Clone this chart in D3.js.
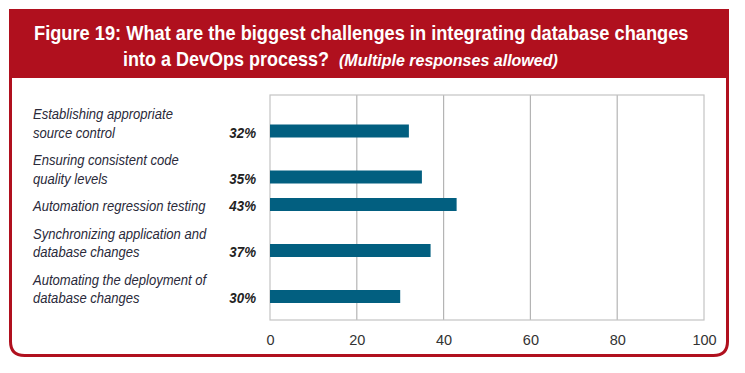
<!DOCTYPE html>
<html lang="en">
<head>
  <meta charset="UTF-8">
  <title>Figure 19</title>
  <style>
    * { box-sizing: border-box; margin: 0; padding: 0; }
    body { background: #fff; width: 745px; height: 373px; overflow: hidden; }
    svg { display: block; }
    .title { font-family: 'Liberation Sans', Arial, sans-serif; font-weight: bold; fill: #fff; }
    .cat { font-family: 'Liberation Sans', Arial, sans-serif; font-style: italic; fill: #2a2a3a; font-size: 14.5px; }
    .pct { font-family: 'Liberation Sans', Arial, sans-serif; font-style: italic; font-weight: bold; fill: #222; font-size: 14.5px; }
    .x-axis text { font-family: 'Liberation Sans', Arial, sans-serif; fill: #333; font-size: 14.5px; }
  </style>
</head>
<body>
  <svg></svg>
  <script src="https://d3js.org/d3.v7.min.js"></script>
  <script>
    // data
    const categories = [
      ['Establishing appropriate', 'source control'],
      ['Ensuring consistent code', 'quality levels'],
      ['Automation regression testing'],
      ['Synchronizing application and', 'database changes'],
      ['Automating the deployment of', 'database changes']
    ];
    const values = [32, 35, 43, 37, 30];
    const ticks = [0, 20, 40, 60, 80, 100];

    const width = 745;
    const height = 373;
    const red = '#b0101e';
    const barColor = '#025f80';

    const svg = d3.select('svg')
      .attr('width', width)
      .attr('height', height);

    // squeeze a text horizontally so it spans a given width (condensed look)
    function fitText(parent, x, y, str, w, cls, size, italic) {
      const t = parent.append('text')
        .attr('class', cls)
        .attr('font-size', size)
        .attr('font-style', italic ? 'italic' : null)
        .text(str);
      const k = w / t.node().getComputedTextLength();
      t.attr('transform', `translate(${x},${y}) scale(${k},1)`);
      return t;
    }

    // outer frame: square top, rounded bottom
    const fx0 = 10.5, fx1 = 727.5, fy0 = 9, fy1 = 355.5, r = 14;
    svg.append('path')
      .attr('d', `M${fx0},${fy0} L${fx0},${fy1 - r} Q${fx0},${fy1} ${fx0 + r},${fy1}
                  L${fx1 - r},${fy1} Q${fx1},${fy1} ${fx1},${fy1 - r} L${fx1},${fy0}`)
      .attr('fill', 'none')
      .attr('stroke', red)
      .attr('stroke-width', 3);

    // title band
    svg.append('rect')
      .attr('x', 9).attr('y', 9)
      .attr('width', 720).attr('height', 69)
      .attr('fill', red);

    fitText(svg, 34, 40, 'Figure 19: What are the biggest challenges in integrating database changes', 655, 'title', 21);
    fitText(svg, 123, 66, 'into a DevOps process?', 206, 'title', 21);
    fitText(svg, 339, 66, '(Multiple responses allowed)', 219, 'title', 16.5, true);

    // plot area
    const plotTop = 95, plotBottom = 320;
    const xScale = d3.scaleLinear().domain([0, 100]).range([270, 704]);

    // line layout for labels: rows of text, extra gap between groups
    const lineStep = 18.5, groupGap = 27.5, firstLine = 114;
    const lineY = [];
    let yCur = firstLine;
    categories.forEach((lines, i) => {
      const ys = lines.map((l, j) => yCur + j * lineStep);
      lineY.push(ys);
      yCur = ys[ys.length - 1] + groupGap;
    });

    const main = svg.append('g');

    // gridlines
    main.append('g')
      .selectAll('line')
      .data(ticks.slice(1, -1))
      .join('line')
      .attr('x1', d => xScale(d)).attr('x2', d => xScale(d))
      .attr('y1', plotTop).attr('y2', plotBottom)
      .attr('stroke', '#b4b4b4')
      .attr('stroke-width', 1.2);

    main.append('rect')
      .attr('x', xScale(0)).attr('y', plotTop)
      .attr('width', xScale(100) - xScale(0))
      .attr('height', plotBottom - plotTop)
      .attr('fill', 'none')
      .attr('stroke', '#c4c4c4')
      .attr('stroke-width', 1.2);

    // bars aligned with the last text line of each category
    const barH = 13;
    main.append('g')
      .selectAll('rect')
      .data(values)
      .join('rect')
      .attr('x', xScale(0))
      .attr('y', (d, i) => lineY[i][lineY[i].length - 1] - barH / 2 - 1.5)
      .attr('width', d => xScale(d) - xScale(0))
      .attr('height', barH)
      .attr('fill', barColor);

    // category labels, condensed
    const catG = main.append('g')
      .attr('transform', 'translate(33,0) scale(0.9,1)');
    categories.forEach((lines, i) => {
      lines.forEach((l, j) => {
        catG.append('text')
          .attr('class', 'cat')
          .attr('x', 0)
          .attr('y', lineY[i][j])
          .attr('dy', '0.35em')
          .text(l);
      });
    });

    // percent labels
    main.append('g')
      .attr('transform', 'translate(256,0) scale(0.92,1)')
      .selectAll('text')
      .data(values)
      .join('text')
      .attr('class', 'pct')
      .attr('x', 0)
      .attr('y', (d, i) => lineY[i][lineY[i].length - 1])
      .attr('dy', '0.35em')
      .attr('text-anchor', 'end')
      .text(d => d + '%');

    // x axis labels
    main.append('g')
      .attr('class', 'x-axis')
      .attr('transform', 'translate(0,' + plotBottom + ')')
      .call(d3.axisBottom(xScale).tickValues(ticks).tickSize(0).tickPadding(15))
      .call(g => g.select('.domain').remove());
  </script>
</body>
</html>
